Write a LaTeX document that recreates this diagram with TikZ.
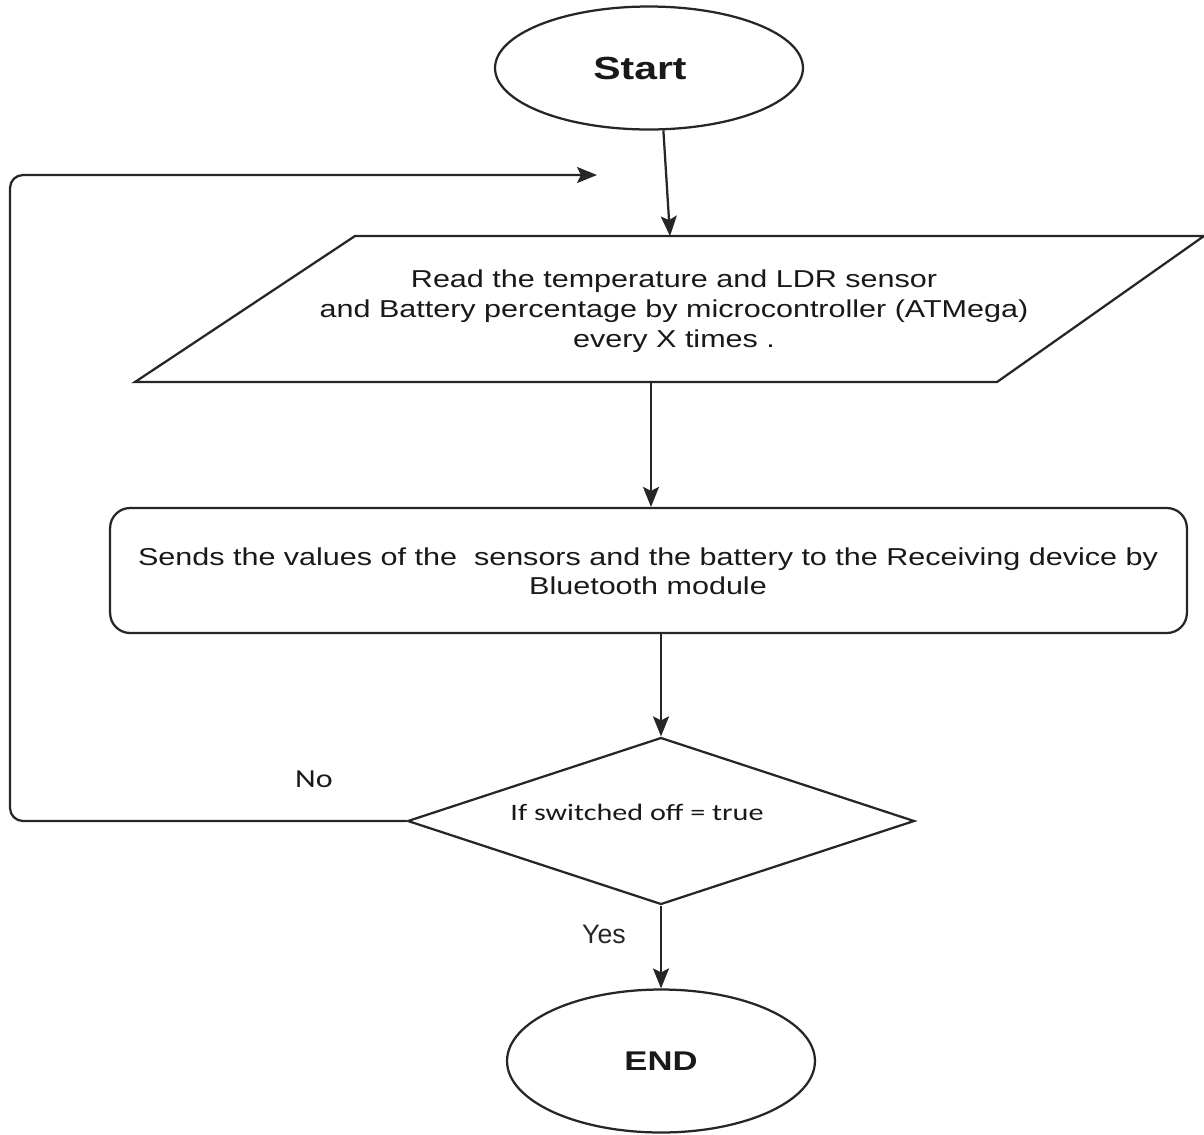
\documentclass[tikz,border=0pt]{standalone}
\usepackage{fontspec}
\setmainfont{Liberation Sans}
\newfontfamily\bodyfont[FakeStretch=1.25]{Liberation Sans}
\newfontfamily\termfont[FakeStretch=1.28]{Liberation Sans}
\newfontfamily\decfont[FakeStretch=1.28]{Carlito}
\newfontfamily\nofont[FakeStretch=1.23]{Carlito}
\usetikzlibrary{shapes.geometric,arrows.meta}
\tikzset{
  line/.style={draw=black!85, line width=0.045cm},
  arr/.style={line, -{Stealth[length=0.4cm,width=0.32cm,inset=0.08cm]}},
  terminal/.style={ellipse, line, inner sep=0pt, minimum width=6.16cm, text=black!90},
  procbox/.style={rectangle, rounded corners=0.4cm, line, inner sep=0pt, minimum width=21.54cm, minimum height=2.5cm},
  decision/.style={diamond, line, inner sep=0pt, minimum width=10.14cm, minimum height=3.34cm},
  bodytext/.style={font=\bodyfont\fontsize{13.9pt}{17.1pt}\selectfont, align=center, text=black!90, inner sep=0pt},
}
\begin{document}
\begin{tikzpicture}[x=0.02cm,y=-0.02cm]
\useasboundingbox[fill=white] (0,0) rectangle (1204,1134);

% Start
\node[terminal, minimum height=2.46cm] (start) at (649,68) {};
\node[inner sep=0pt, text=black!90, font=\termfont\bfseries\fontsize{18.2pt}{20pt}\selectfont] (starttxt) at (640,68) {Start};

% Input parallelogram
\coordinate (pTL) at (355,236);
\coordinate (pTR) at (1204,236);
\coordinate (pBR) at (997,382);
\coordinate (pBL) at (135,382);
\draw[line] (pTL) -- (pTR) -- (pBR) -- (pBL) -- cycle;
\coordinate (rtop) at (670,236);
\coordinate (rbot) at (651,382);
\node[bodytext] (readtxt) at (674,311) {Read the temperature and LDR sensor\\and Battery percentage by microcontroller (ATMega)\\every X times .};

% Process box
\node[procbox] (send) at (648.5,570.5) {};
\node[bodytext, font=\bodyfont\fontsize{13.9pt}{16.5pt}\selectfont] (sendtxt) at (648,571) {Sends the values of the\ \ sensors and the battery to the Receiving device by\\Bluetooth module};

% Decision
\node[decision] (dec) at (661,821) {};
\node[font=\decfont\fontsize{13.4pt}{15pt}\selectfont, text=black!90, inner sep=0pt] (dectxt) at (637,812) {If switched off = true};

% End
\node[terminal, minimum height=2.86cm, font=\termfont\bfseries\fontsize{15.4pt}{17pt}\selectfont] (end) at (661,1061) {END};

% Labels
\node[font=\nofont\fontsize{14.8pt}{16pt}\selectfont, text=black!90, inner sep=0pt] (nolbl) at (314,779) {No};
\node[font=\fontsize{15.2pt}{17pt}\selectfont, text=black!85, inner sep=0pt] (yeslbl) at (604,934) {Yes};

% Connectors
\draw[arr] (start.283) -- (rtop);
\draw[arr] (rbot) -- (rbot |- send.north);
\draw[arr] (send.south -| dec.north) -- (dec.north);
\draw[arr] (dec.south) -- (end.north);
\coordinate (loopend) at (597,175);
\draw[arr, rounded corners=0.26cm] (dec.west) -- (10,821) -- (10,175) -- (loopend);
\end{tikzpicture}
\end{document}
